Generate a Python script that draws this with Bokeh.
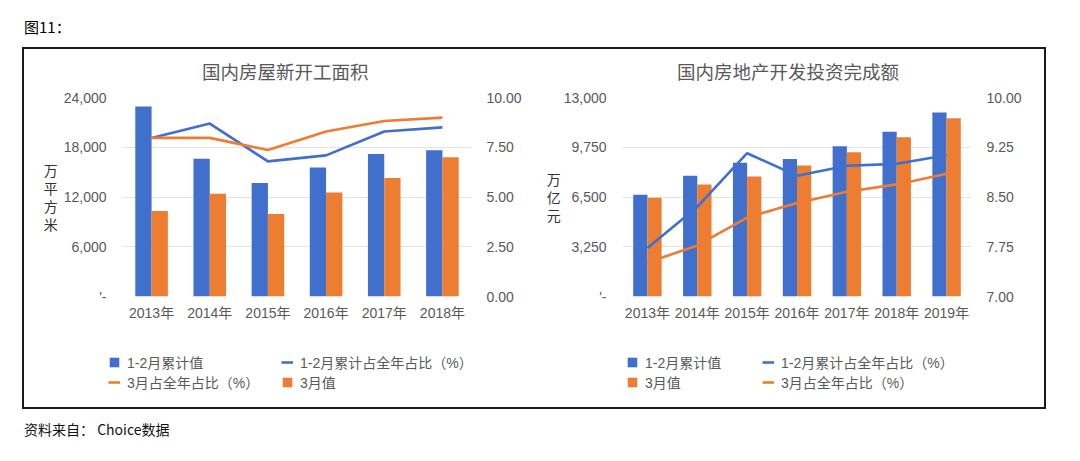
from bokeh.plotting import figure
from bokeh.models import (FactorRange, Range1d, LinearAxis, FixedTicker, NumeralTickFormatter,
                          Legend, LegendItem, Div, ColumnDataSource)
from bokeh.layouts import row, column
from bokeh.transform import dodge
from bokeh.embed import file_html
from bokeh.resources import INLINE

# ---------------- data ----------------
years_area = ["2013年", "2014年", "2015年", "2016年", "2017年", "2018年"]
area_janfeb = [22900, 16600, 13700, 15550, 17200, 17650]          # 1-2月累计值 (万平方米)
area_mar = [10300, 12400, 9950, 12550, 14300, 16800]              # 3月值
area_janfeb_pct = [7.97, 8.69, 6.79, 7.09, 8.29, 8.50]            # 1-2月累计占全年占比(%)
area_mar_pct = [7.97, 7.97, 7.36, 8.29, 8.82, 8.99]               # 3月占全年占比(%)

years_inv = ["2013年", "2014年", "2015年", "2016年", "2017年", "2018年", "2019年"]
inv_janfeb = [6640, 7890, 8740, 8980, 9810, 10770, 12020]         # 1-2月累计值 (万亿元)
inv_mar = [6450, 7320, 7840, 8560, 9420, 10400, 11650]            # 3月值
inv_janfeb_pct = [7.73, 8.35, 9.16, 8.82, 8.97, 9.00, 9.13]
inv_mar_pct = [7.51, 7.77, 8.19, 8.41, 8.58, 8.69, 8.85]

area_left_ticks = [0, 6000, 12000, 18000, 24000]
area_right_ticks = [0, 2.5, 5, 7.5, 10]
inv_left_ticks = [0, 3250, 6500, 9750, 13000]
inv_right_ticks = [7, 7.75, 8.5, 9.25, 10]

BLUE = "#4070CB"
BLUE_LINE = "#3F6FD1"
ORANGE = "#ED7D31"
TXT = "#595959"
GRID = "#E3E3E3"
FONT = "Liberation Sans, Noto Sans CJK SC"
CJK = "Noto Sans CJK SC"

MAIN_H = 237
LEG_H = 81
W_LEFT = 512
W_RIGHT = 508


def make_chart(src, years, ymax, lticks, rmin, rmax, rticks, ylabel,
               width, bl, br, bar_w, ylabel_standoff):
    p = figure(x_range=FactorRange(*years), y_range=Range1d(0, ymax),
               width=width, height=MAIN_H, output_backend="svg", toolbar_location=None,
               min_border_left=bl, min_border_right=br, min_border_top=8, min_border_bottom=30)
    p.outline_line_color = None
    p.background_fill_color = "white"
    p.border_fill_color = "white"
    p.extra_y_ranges = {"pct": Range1d(rmin, rmax)}

    p.vbar(x=dodge("year", -bar_w / 2, range=p.x_range), top="v1", width=bar_w,
           source=src, fill_color=BLUE, line_color=None)
    p.vbar(x=dodge("year", bar_w / 2, range=p.x_range), top="v2", width=bar_w,
           source=src, fill_color=ORANGE, line_color=None)
    p.line(x="year", y="p1", source=src, y_range_name="pct", line_color=BLUE_LINE,
           line_width=2.6)
    p.line(x="year", y="p2", source=src, y_range_name="pct", line_color=ORANGE,
           line_width=2.6)

    ya = p.yaxis[0]
    ya.ticker = FixedTicker(ticks=lticks)
    ya.formatter = NumeralTickFormatter(format="0,0")
    ya.major_label_overrides = {0: "'-"}
    ya.major_label_standoff = 10
    ya.axis_label = "\n".join(list(ylabel))
    ya.axis_label_orientation = "horizontal"
    ya.axis_label_standoff = ylabel_standoff
    ya.axis_label_text_font = CJK
    ya.axis_label_text_font_size = "14px"
    ya.axis_label_text_font_style = "normal"
    ya.axis_label_text_color = "#333333"
    ya.axis_label_text_line_height = 0.9

    ra = LinearAxis(y_range_name="pct", ticker=FixedTicker(ticks=rticks),
                    formatter=NumeralTickFormatter(format="0.00"))
    ra.major_label_standoff = 9
    p.add_layout(ra, "right")

    for ax in (ya, ra, p.xaxis[0]):
        ax.axis_line_color = None
        ax.major_tick_line_color = None
        ax.minor_tick_line_color = None
        ax.major_label_text_color = TXT
        ax.major_label_text_font = FONT
        ax.major_label_text_font_size = "14px"
    p.xaxis[0].major_label_standoff = 2

    p.xgrid.grid_line_color = None
    p.ygrid.grid_line_color = GRID
    p.ygrid.ticker = FixedTicker(ticks=lticks)
    return p


def title_div(text, width, pad_left):
    return Div(text=f'<div style="font-family:\'Noto Sans CJK SC\';font-size:18.5px;'
                    f'color:{TXT};line-height:1;white-space:nowrap;'
                    f'padding:13px 0 0 {pad_left}px;">{text}</div>',
               width=width, height=40, margin=(0, 0, 0, 0))


src_area = ColumnDataSource(dict(year=years_area, v1=area_janfeb, v2=area_mar,
                                 p1=area_janfeb_pct, p2=area_mar_pct))
src_inv = ColumnDataSource(dict(year=years_inv, v1=inv_janfeb, v2=inv_mar,
                                p1=inv_janfeb_pct, p2=inv_mar_pct))

p_area = make_chart(src_area, years_area, 24000, area_left_ticks, 0, 10, area_right_ticks,
                    "万平方米", W_LEFT, 98, 65, 0.28, 3)
p_inv = make_chart(src_inv, years_inv, 13000, inv_left_ticks, 7, 10, inv_right_ticks,
                   "万亿元", W_RIGHT, 86, 73, 0.285, 0)

# ---- legend strip: renderers are hidden, only the legend entries are drawn ----
lp = figure(width=W_LEFT + W_RIGHT, height=LEG_H, x_range=FactorRange(*years_inv),
            y_range=Range1d(-2, -1), x_axis_type=None, y_axis_type=None,
            output_backend="svg", toolbar_location=None, min_border_left=0,
            min_border_right=0, min_border_top=0, min_border_bottom=0)
lp.outline_line_color = None
lp.grid.visible = False


def legend_renderers(src, bar_w):
    rs = {
        "b1": lp.vbar(x="year", top="v1", width=bar_w, source=src, fill_color=BLUE, line_color=None),
        "b2": lp.vbar(x="year", top="v2", width=bar_w, source=src, fill_color=ORANGE, line_color=None),
        "l1": lp.line(x="year", y="p1", source=src, line_color=BLUE_LINE, line_width=2.6),
        "l2": lp.line(x="year", y="p2", source=src, line_color=ORANGE, line_width=2.6),
    }
    for r in rs.values():
        r.visible = False
    return rs


ra_area = legend_renderers(src_area, 0.28)
ra_inv = legend_renderers(src_inv, 0.285)

legend_spec = [
    (ra_area, "b1", "1-2月累计值", 84, 35),
    (ra_area, "l1", "1-2月累计占全年占比（%）", 257, 35),
    (ra_area, "l2", "3月占全年占比（%）", 84, 15),
    (ra_area, "b2", "3月值", 257, 15),
    (ra_inv, "b1", "1-2月累计值", W_LEFT + 90, 35),
    (ra_inv, "l1", "1-2月累计占全年占比（%）", W_LEFT + 226, 35),
    (ra_inv, "b2", "3月值", W_LEFT + 90, 15),
    (ra_inv, "l2", "3月占全年占比（%）", W_LEFT + 226, 15),
]
for rend, key, label, x, y in legend_spec:
    lg = Legend(items=[LegendItem(label=label, renderers=[rend[key]])], location=(x, y),
                padding=0, margin=0, spacing=0, glyph_width=12, glyph_height=12,
                label_standoff=7, label_height=16, label_text_font=FONT,
                label_text_font_size="14px", label_text_color=TXT,
                background_fill_alpha=0, border_line_alpha=0,
                inactive_fill_alpha=0)
    lp.add_layout(lg, "center")

titles = row(title_div("国内房屋新开工面积", W_LEFT, 178),
             title_div("国内房地产开发投资完成额", W_RIGHT, 141))

header = Div(text='<div style="font-family:\'Noto Sans CJK SC\';font-size:15px;color:#000;'
                  'line-height:1;padding:12px 0 0 17px;">图11：</div>',
             width=1060, height=40, margin=(0, 0, 0, 0))
box = column(titles, row(p_area, p_inv), row(lp), margin=(0, 0, 0, 15),
             styles={"border": "2px solid #1a1a1a"})
footer = Div(text='<div style="font-family:\'Noto Sans CJK SC\';font-size:14px;color:#111;'
                  'line-height:1;padding:13px 0 0 17px;">资料来自：&nbsp;Choice数据</div>',
             width=1060, height=40, margin=(0, 0, 0, 0))

layout = column(header, box, footer, margin=(7, 0, 0, 7))
open("out.html", "w").write(file_html(layout, INLINE))
